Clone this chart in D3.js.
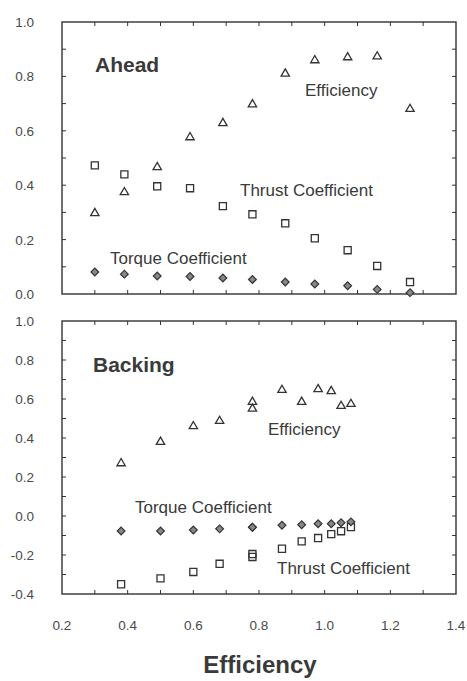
<!DOCTYPE html>
<html lang="en">
<head>
<meta charset="UTF-8">
<title>Ahead / Backing</title>
<script src="https://d3js.org/d3.v7.min.js"></script>
<style>
  body { margin: 0; background: #fff; }
  text { font-family: "Liberation Sans", Arial, Helvetica, sans-serif; fill: #3a3a3a; }
</style>
</head>
<body>
<div id="chart"></div>
<script>
// x values (advance coefficient) and series
const aheadX = [0.30, 0.39, 0.49, 0.59, 0.69, 0.78, 0.88, 0.97, 1.07, 1.16, 1.26];
const aheadEfficiency = [0.297, 0.374, 0.466, 0.576, 0.628, 0.697, 0.81, 0.859, 0.87, 0.873, 0.68];
const aheadThrust = [0.473, 0.44, 0.396, 0.389, 0.323, 0.293, 0.26, 0.205, 0.161, 0.103, 0.044];
const aheadTorque = [0.081, 0.073, 0.066, 0.064, 0.059, 0.053, 0.044, 0.037, 0.030, 0.017, 0.005];

const backingX = [0.38, 0.50, 0.60, 0.68, 0.78, 0.78, 0.87, 0.93, 0.98, 1.02, 1.05, 1.08];
const backingEfficiency = [0.27, 0.38, 0.46, 0.487, 0.585, 0.55, 0.646, 0.585, 0.65, 0.64, 0.564, 0.574];
const backingThrust = [-0.35, -0.32, -0.287, -0.245, -0.195, -0.21, -0.168, -0.13, -0.113, -0.093, -0.078, -0.057];
const backingTorque = [-0.077, -0.077, -0.072, -0.066, -0.058, -0.058, -0.047, -0.045, -0.04, -0.04, -0.035, -0.03];

const xTickLabels = [0.2, 0.4, 0.6, 0.8, 1.0, 1.2, 1.4];
const aheadYTickLabels = [0.0, 0.2, 0.4, 0.6, 0.8, 1.0];
const backingYTickLabels = [-0.4, -0.2, 0.0, 0.2, 0.4, 0.6, 0.8, 1.0];

const width = 467, height = 681;
const left = 62, right = 456;

const svg = d3.select("#chart").append("svg")
    .attr("width", width)
    .attr("height", height);

const x = d3.scaleLinear().domain([0.2, 1.4]).range([left, right]);
const ink = "#333";

function drawPanel(opts) {
    const y = d3.scaleLinear().domain(opts.yDomain).range([opts.bottom, opts.top]);
    const g = svg.append("g");

    // frame
    g.append("rect")
        .attr("x", left).attr("y", opts.top)
        .attr("width", right - left).attr("height", opts.bottom - opts.top)
        .attr("fill", "none").attr("stroke", ink).attr("stroke-width", 1.4);

    // inside ticks every 0.1
    const xt = d3.range(3, 14).map(d => d / 10);
    const yt = d3.range(Math.round(opts.yDomain[0] * 10) + 1, Math.round(opts.yDomain[1] * 10)).map(d => d / 10);
    const tl = 4;
    g.selectAll(".xtb").data(xt).enter().append("line")
        .attr("x1", d => x(d)).attr("x2", d => x(d))
        .attr("y1", opts.bottom).attr("y2", opts.bottom - tl)
        .attr("stroke", ink).attr("stroke-width", 1);
    g.selectAll(".xtt").data(xt).enter().append("line")
        .attr("x1", d => x(d)).attr("x2", d => x(d))
        .attr("y1", opts.top).attr("y2", opts.top + tl)
        .attr("stroke", ink).attr("stroke-width", 1);
    g.selectAll(".ytl").data(yt).enter().append("line")
        .attr("x1", left).attr("x2", left + tl)
        .attr("y1", d => y(d)).attr("y2", d => y(d))
        .attr("stroke", ink).attr("stroke-width", 1);
    g.selectAll(".ytr").data(yt).enter().append("line")
        .attr("x1", right).attr("x2", right - tl)
        .attr("y1", d => y(d)).attr("y2", d => y(d))
        .attr("stroke", ink).attr("stroke-width", 1);

    // y tick labels
    g.selectAll(".ylab").data(opts.yLabels).enter().append("text")
        .attr("x", 34).attr("y", d => y(d) + 5)
        .attr("text-anchor", "end")
        .attr("font-size", 13.5)
        .style("fill", "#4a4a4a")
        .text(d => d.toFixed(1));

    // markers
    const tri = d3.symbol().type(d3.symbolTriangle).size(30);
    const sq = d3.symbol().type(d3.symbolSquare).size(50);
    const dia = d3.symbol().type(d3.symbolSquare).size(30);

    g.selectAll(".eff").data(opts.xs).enter().append("path")
        .attr("d", tri)
        .attr("transform", (d, i) => `translate(${x(d)},${y(opts.eff[i])})`)
        .attr("fill", "none").attr("stroke", ink).attr("stroke-width", 1.3);
    g.selectAll(".thr").data(opts.xs).enter().append("path")
        .attr("d", sq)
        .attr("transform", (d, i) => `translate(${x(d)},${y(opts.thrust[i])})`)
        .attr("fill", "none").attr("stroke", ink).attr("stroke-width", 1.3);
    g.selectAll(".trq").data(opts.xs).enter().append("path")
        .attr("d", dia)
        .attr("transform", (d, i) => `translate(${x(d)},${y(opts.torque[i])}) rotate(45)`)
        .attr("fill", "#888").attr("stroke", ink).attr("stroke-width", 1.2);

    // annotations
    g.append("text").attr("x", opts.title[0]).attr("y", opts.title[1])
        .attr("font-size", 21).attr("font-weight", "bold").text(opts.title[2]);
    opts.notes.forEach(n => {
        g.append("text").attr("x", n[0]).attr("y", n[1])
            .attr("font-size", 17).text(n[2]);
    });
}

drawPanel({
    top: 22, bottom: 294, yDomain: [0, 1], yLabels: aheadYTickLabels,
    xs: aheadX, eff: aheadEfficiency, thrust: aheadThrust, torque: aheadTorque,
    title: [95, 72, "Ahead"],
    notes: [[305, 96, "Efficiency"], [240, 196, "Thrust Coefficient"], [110, 264, "Torque Coefficient"]]
});

drawPanel({
    top: 321, bottom: 594, yDomain: [-0.4, 1.0], yLabels: backingYTickLabels,
    xs: backingX, eff: backingEfficiency, thrust: backingThrust, torque: backingTorque,
    title: [93, 372, "Backing"],
    notes: [[268, 435, "Efficiency"], [135, 513, "Torque Coefficient"], [277, 574, "Thrust Coefficient"]]
});

// x tick labels
svg.selectAll(".xlab").data(xTickLabels).enter().append("text")
    .attr("x", d => x(d)).attr("y", 630)
    .attr("text-anchor", "middle")
    .attr("font-size", 13.5)
    .style("fill", "#4a4a4a")
    .text(d => d.toFixed(1));

svg.append("text")
    .attr("x", 260).attr("y", 673)
    .attr("text-anchor", "middle")
    .attr("font-size", 24).attr("font-weight", "bold")
    .text("Efficiency");
</script>
</body>
</html>
